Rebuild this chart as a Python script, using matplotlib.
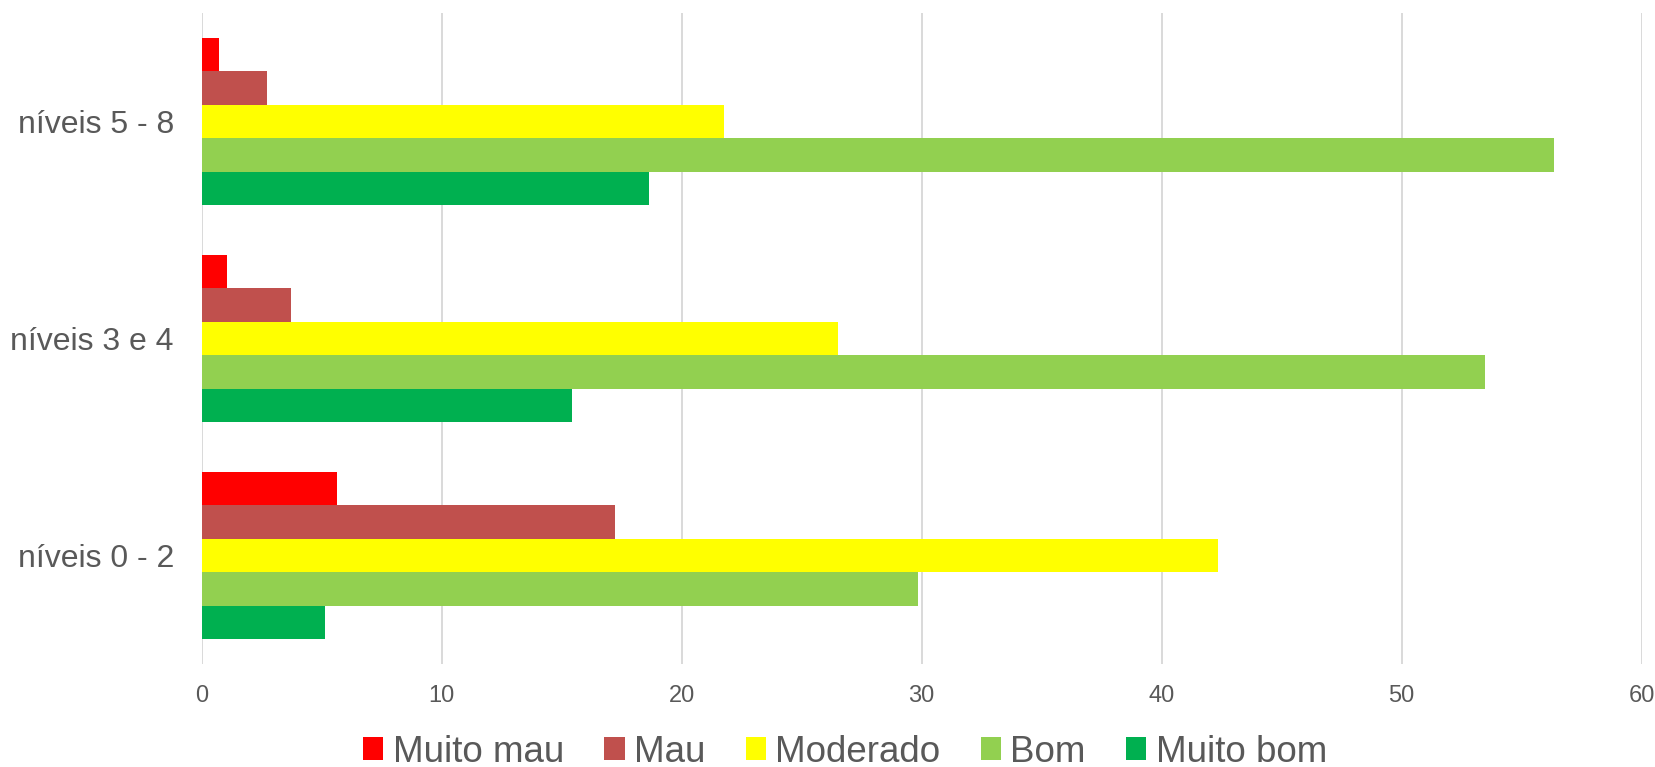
import matplotlib
matplotlib.use("Agg")
import matplotlib.pyplot as plt
import numpy as np

plt.rcParams['font.family'] = ['Liberation Sans', 'DejaVu Sans']

categories = ["níveis 0 - 2", "níveis 3 e 4", "níveis 5 - 8"]
series_names = ["Muito mau", "Mau", "Moderado", "Bom", "Muito bom"]
muito_mau = [5.65, 1.05, 0.73]
mau = [17.23, 3.72, 2.71]
moderado = [42.35, 26.5, 21.76]
bom = [29.86, 53.47, 56.35]
muito_bom = [5.12, 15.43, 18.62]
colors = ["#FF0000", "#C0504D", "#FFFF00", "#92D050", "#00B050"]
xticks = [0, 10, 20, 30, 40, 50, 60]

series = [muito_mau, mau, moderado, bom, muito_bom]

fig = plt.figure(figsize=(16.55, 7.67), dpi=100)
ax = fig.add_axes([201.7 / 1655, (767 - 664) / 767, (1641.7 - 201.7) / 1655, (664 - 13) / 767])

group_w = 1 / 1.3
h = group_w / len(series)
y = np.arange(len(categories))
for j, (name, vals, c) in enumerate(zip(series_names, series, colors)):
    offset = (2 - j) * h
    ax.barh(y + offset, vals, height=h, color=c, label=name, zorder=3)

ax.set_xlim(0, 60)
ax.set_ylim(-0.5, len(categories) - 0.5)
ax.set_xticks(xticks)
ax.set_xticklabels([str(t) for t in xticks])
ax.set_yticks(y)
ax.set_yticklabels(categories)
ax.grid(axis='x', color='#D9D9D9', linewidth=1.4, zorder=0)
ax.grid(axis='y', visible=False)
for s in ax.spines.values():
    s.set_visible(False)
ax.tick_params(axis='x', length=0, pad=15, labelsize=17, labelcolor='#595959')
ax.tick_params(axis='y', length=0, pad=20, labelsize=23, labelcolor='#595959')

leg = fig.legend(loc='center', bbox_to_anchor=(845 / 1655, 1 - 752 / 767), ncol=5,
                 frameon=False, fontsize=26.5, handlelength=0.55, handleheight=0.55,
                 handletextpad=0.25, columnspacing=1.1, borderpad=0)
for t in leg.get_texts():
    t.set_color('#595959')

fig.savefig("out.png", dpi=100)
